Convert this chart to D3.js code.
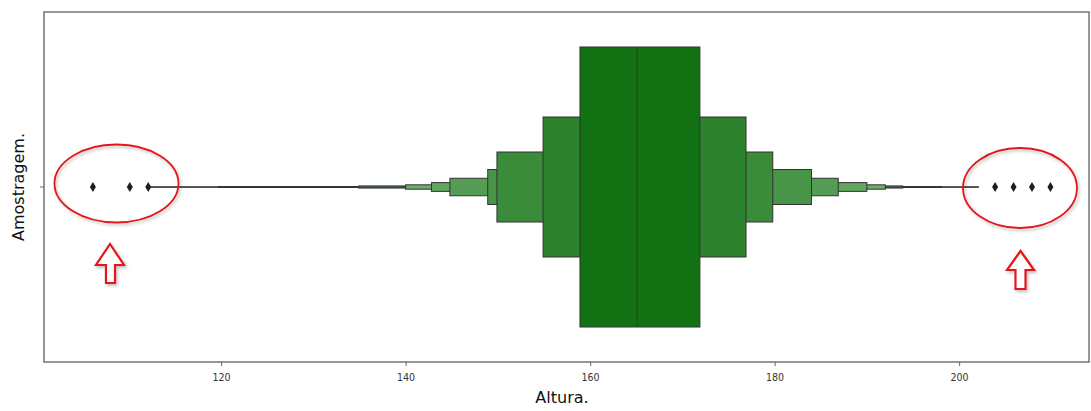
<!DOCTYPE html>
<html>
<head>
<meta charset="utf-8">
<script src="https://cdn.jsdelivr.net/npm/d3@7/dist/d3.min.js"></script>
<style>
  html, body { margin: 0; padding: 0; background: #fff; }
  svg { display: block; }
</style>
</head>
<body>
<svg id="chart" width="1091" height="411"></svg>
<script>
// ---- data ----
const category = ["Amostragem"];
const lowerEdges = [158.9, 154.9, 149.9, 148.9, 144.8, 142.8, 140.0, 134.9, 119.7, 112.3];
const upperEdges = [171.9, 176.9, 179.8, 184.0, 186.9, 190.0, 192.0, 193.9, 198.1, 202.1];
const medianValue = [165.1];
const outliers = [106.1, 110.1, 112.1, 203.9, 205.9, 207.9, 209.9];
const xTicks = [120, 140, 160, 180, 200];
const xLabel = "Altura.";
const yLabel = "Amostragem.";

// ---- styles ----
const levelColors = ["#127112", "#2d822d", "#3a8b3a", "#489448", "#559d55", "#62a662", "#6fae6f", "#3f5f3f", "#3a3a3a", "#444444"];
const mLeft = 44, mRight = 1089, mTop = 12, mBottom = 362;

const svg = d3.select("#chart");

const x = d3.scaleLinear().domain([100.8, 214.08]).range([mLeft, mRight]);
const y = d3.scaleBand().domain(category).range([mTop, mBottom]).padding(0);
const cy = y(category[0]) + y.bandwidth() / 2;
const fullH = y.bandwidth() * 0.8;

// shadow filter for annotations
const defs = svg.append("defs");
const f = defs.append("filter").attr("id", "shadow").attr("x", "-20%").attr("y", "-20%").attr("width", "140%").attr("height", "140%");
f.append("feDropShadow").attr("dx", 1.5).attr("dy", 2).attr("stdDeviation", 1.5).attr("flood-color", "#000").attr("flood-opacity", 0.25);

// boxes, drawn from the outermost (thinnest) to the innermost
const levels = lowerEdges.map((lo, i) => ({lo, hi: upperEdges[i], k: i}));
svg.append("g").selectAll("rect")
  .data(levels.slice().reverse())
  .join("rect")
  .attr("x", d => x(d.lo))
  .attr("width", d => x(d.hi) - x(d.lo))
  .attr("y", d => cy - fullH / Math.pow(2, d.k) / 2)
  .attr("height", d => Math.max(fullH / Math.pow(2, d.k), 0.6))
  .attr("fill", d => levelColors[d.k])
  .attr("stroke", "#333")
  .attr("stroke-width", d => d.k < 7 ? 1 : 0.9);

// median
svg.append("g").selectAll("line")
  .data(medianValue)
  .join("line")
  .attr("x1", d => x(d)).attr("x2", d => x(d))
  .attr("y1", cy - fullH / 2).attr("y2", cy + fullH / 2)
  .attr("stroke", "#1d4f1d").attr("stroke-width", 1.2);

// outliers (diamonds)
svg.append("g").selectAll("path")
  .data(outliers)
  .join("path")
  .attr("d", d => {
    const px = x(d);
    return `M${px},${cy - 5}L${px + 3},${cy}L${px},${cy + 5}L${px - 3},${cy}Z`;
  })
  .attr("fill", "#1e1e1e");

// axes
const xAxis = d3.axisBottom(x).tickValues(xTicks).tickSize(4).tickPadding(8).tickFormat(d3.format("d"));
const gx = svg.append("g").attr("transform", `translate(0,${mBottom})`).call(xAxis);
gx.select(".domain").remove();
gx.selectAll(".tick line").attr("stroke", "#666");
gx.selectAll(".tick text").attr("fill", "#333").style("font-family", "DejaVu Sans Condensed, DejaVu Sans").style("font-size", "10.5px");

const yAxis = d3.axisLeft(y).tickSize(4).tickFormat("");
const gy = svg.append("g").attr("transform", `translate(${mLeft},0)`).call(yAxis);
gy.select(".domain").remove();
gy.selectAll(".tick line").attr("stroke", "#666");

// frame
svg.append("rect").attr("x", mLeft).attr("y", mTop).attr("width", mRight - mLeft).attr("height", mBottom - mTop)
  .attr("fill", "none").attr("stroke", "#6a6a6a").attr("stroke-width", 1.4);

// axis labels
svg.append("text").attr("x", 562).attr("y", 403).attr("text-anchor", "middle")
  .style("font-family", "DejaVu Sans").style("font-size", "16px").attr("fill", "#111").text(xLabel);
svg.append("text").attr("transform", `translate(24,${cy}) rotate(-90)`).attr("text-anchor", "middle")
  .style("font-family", "DejaVu Sans").style("font-size", "16px").attr("fill", "#111").text(yLabel);

// red annotations
const ann = svg.append("g").attr("filter", "url(#shadow)");
ann.append("ellipse").attr("cx", 116.5).attr("cy", 183.5).attr("rx", 62).attr("ry", 39)
  .attr("fill", "none").attr("stroke", "#e3191f").attr("stroke-width", 1.8);
ann.append("ellipse").attr("cx", 1020).attr("cy", 188).attr("rx", 57).attr("ry", 40)
  .attr("fill", "none").attr("stroke", "#e3191f").attr("stroke-width", 1.8);
function arrow(x0, x1, sx0, sx1, yTip, yBase, yBot) {
  const mx = (x0 + x1) / 2;
  return `M${mx},${yTip}L${x1},${yBase}L${sx1},${yBase}L${sx1},${yBot}L${sx0},${yBot}L${sx0},${yBase}L${x0},${yBase}Z`;
}
ann.append("path").attr("d", arrow(96, 124, 106, 115, 244, 265, 283))
  .attr("fill", "#fff").attr("stroke", "#e3191f").attr("stroke-width", 2.2).attr("stroke-linejoin", "miter");
ann.append("path").attr("d", arrow(1007, 1034, 1015.5, 1025.5, 251, 270, 289))
  .attr("fill", "#fff").attr("stroke", "#e3191f").attr("stroke-width", 2.2).attr("stroke-linejoin", "miter");
</script>
</body>
</html>
